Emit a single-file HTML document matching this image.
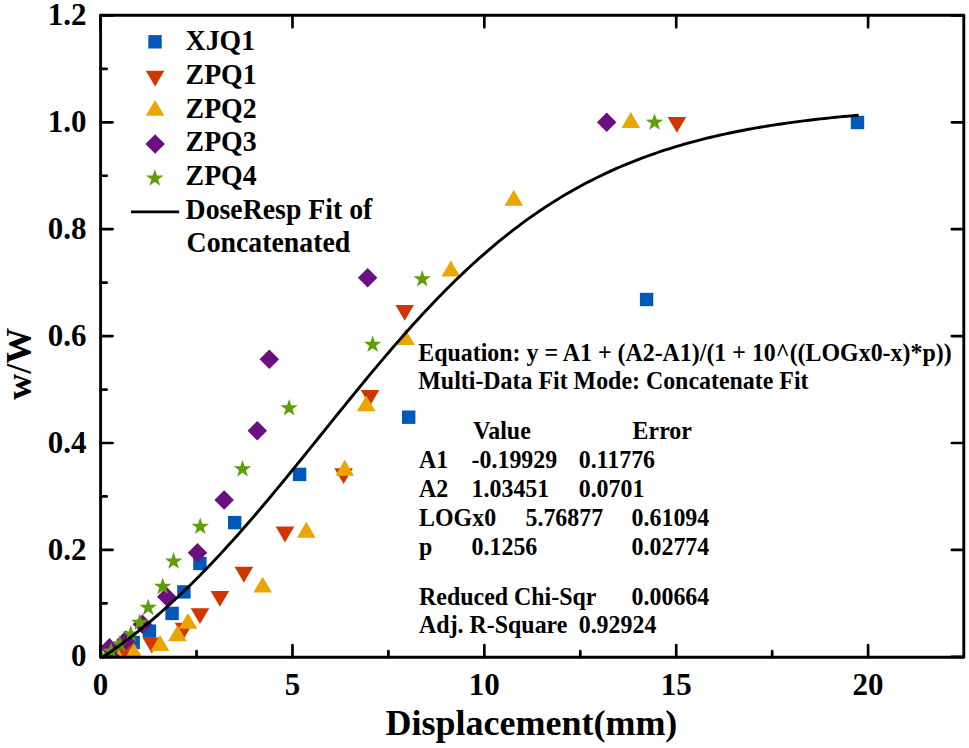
<!DOCTYPE html>
<html><head><meta charset="utf-8"><style>
html,body{margin:0;padding:0;background:#fff;width:969px;height:748px;overflow:hidden}
svg{display:block}
</style></head><body>
<svg width="969" height="748" viewBox="0 0 969 748">
<defs><clipPath id="pa"><rect x="100.6" y="15.3" width="863.2" height="641.9"/></clipPath></defs>
<rect width="969" height="748" fill="#fff"/>
<g clip-path="url(#pa)">
<rect x="850.8" y="115.8" width="13.4" height="13.4" fill="#0059b8"/>
<rect x="639.9" y="292.8" width="13.4" height="13.4" fill="#0059b8"/>
<rect x="402" y="410.5" width="13.4" height="13.4" fill="#0059b8"/>
<rect x="292.9" y="467.7" width="13.4" height="13.4" fill="#0059b8"/>
<rect x="228" y="515.9" width="13.4" height="13.4" fill="#0059b8"/>
<rect x="193.2" y="556.8" width="13.4" height="13.4" fill="#0059b8"/>
<rect x="177.2" y="585.2" width="13.4" height="13.4" fill="#0059b8"/>
<rect x="165.4" y="606.7" width="13.4" height="13.4" fill="#0059b8"/>
<rect x="142.7" y="624.4" width="13.4" height="13.4" fill="#0059b8"/>
<rect x="126.5" y="635.8" width="13.4" height="13.4" fill="#0059b8"/>
<rect x="115.3" y="649.3" width="13.4" height="13.4" fill="#0059b8"/>
<path d="M667.6 116.95H686.2L676.9 132.85Z" fill="#d23600"/>
<path d="M395.4 304.95H414L404.7 320.85Z" fill="#d23600"/>
<path d="M360.7 390.05H379.3L370 405.95Z" fill="#d23600"/>
<path d="M334.3 468.15H352.9L343.6 484.05Z" fill="#d23600"/>
<path d="M275.7 526.55H294.3L285 542.45Z" fill="#d23600"/>
<path d="M234.6 566.85H253.2L243.9 582.75Z" fill="#d23600"/>
<path d="M210.6 590.95H229.2L219.9 606.85Z" fill="#d23600"/>
<path d="M190.7 608.15H209.3L200 624.05Z" fill="#d23600"/>
<path d="M174.7 622.65H193.3L184 638.55Z" fill="#d23600"/>
<path d="M142.5 637.55H161.1L151.8 653.45Z" fill="#d23600"/>
<path d="M114.7 644.05H133.3L124 659.95Z" fill="#d23600"/>
<path d="M621.5 127.95H640.1L630.8 112.05Z" fill="#eba500"/>
<path d="M504.5 205.65H523.1L513.8 189.75Z" fill="#eba500"/>
<path d="M441.5 276.45H460.1L450.8 260.55Z" fill="#eba500"/>
<path d="M396.2 344.95H414.8L405.5 329.05Z" fill="#eba500"/>
<path d="M356.9 411.35H375.5L366.2 395.45Z" fill="#eba500"/>
<path d="M335.4 475.75H354L344.7 459.85Z" fill="#eba500"/>
<path d="M297 537.65H315.6L306.3 521.75Z" fill="#eba500"/>
<path d="M253.3 592.55H271.9L262.6 576.65Z" fill="#eba500"/>
<path d="M178.7 628.85H197.3L188 612.95Z" fill="#eba500"/>
<path d="M168.1 641.25H186.7L177.4 625.35Z" fill="#eba500"/>
<path d="M150.7 650.95H169.3L160 635.05Z" fill="#eba500"/>
<path d="M124.6 658.9H143.2L133.9 643Z" fill="#eba500"/>
<path d="M109.4 665.3H128L118.7 649.4Z" fill="#eba500"/>
<path d="M606.7 112.45L616.45 122.2L606.7 131.95L596.95 122.2Z" fill="#6c0f80"/>
<path d="M367.6 267.95L377.35 277.7L367.6 287.45L357.85 277.7Z" fill="#6c0f80"/>
<path d="M269.3 349.55L279.05 359.3L269.3 369.05L259.55 359.3Z" fill="#6c0f80"/>
<path d="M257.3 421.05L267.05 430.8L257.3 440.55L247.55 430.8Z" fill="#6c0f80"/>
<path d="M224.2 490.35L233.95 500.1L224.2 509.85L214.45 500.1Z" fill="#6c0f80"/>
<path d="M197.5 542.95L207.25 552.7L197.5 562.45L187.75 552.7Z" fill="#6c0f80"/>
<path d="M166.7 586.95L176.45 596.7L166.7 606.45L156.95 596.7Z" fill="#6c0f80"/>
<path d="M142.4 614.45L152.15 624.2L142.4 633.95L132.65 624.2Z" fill="#6c0f80"/>
<path d="M126 630.25L135.75 640L126 649.75L116.25 640Z" fill="#6c0f80"/>
<path d="M109.5 638.1L119.25 647.85L109.5 657.6L99.75 647.85Z" fill="#6c0f80"/>
<path d="M113 649.25L122.75 659L113 668.75L103.25 659Z" fill="#6c0f80"/>
<path d="M654.5 113.3L656.61 119.6L663.25 119.66L657.91 123.61L659.91 129.94L654.5 126.09L649.09 129.94L651.09 123.61L645.75 119.66L652.39 119.6Z" fill="#5e9e08"/>
<path d="M422.2 269.9L424.31 276.2L430.95 276.26L425.61 280.21L427.61 286.54L422.2 282.69L416.79 286.54L418.79 280.21L413.45 276.26L420.09 276.2Z" fill="#5e9e08"/>
<path d="M372.6 335.4L374.71 341.7L381.35 341.76L376.01 345.71L378.01 352.04L372.6 348.19L367.19 352.04L369.19 345.71L363.85 341.76L370.49 341.7Z" fill="#5e9e08"/>
<path d="M289.1 398.9L291.21 405.2L297.85 405.26L292.51 409.21L294.51 415.54L289.1 411.69L283.69 415.54L285.69 409.21L280.35 405.26L286.99 405.2Z" fill="#5e9e08"/>
<path d="M242.5 459.9L244.61 466.2L251.25 466.26L245.91 470.21L247.91 476.54L242.5 472.69L237.09 476.54L239.09 470.21L233.75 466.26L240.39 466.2Z" fill="#5e9e08"/>
<path d="M200.2 517.4L202.31 523.7L208.95 523.76L203.61 527.71L205.61 534.04L200.2 530.19L194.79 534.04L196.79 527.71L191.45 523.76L198.09 523.7Z" fill="#5e9e08"/>
<path d="M173.6 552.1L175.71 558.4L182.35 558.46L177.01 562.41L179.01 568.74L173.6 564.89L168.19 568.74L170.19 562.41L164.85 558.46L171.49 558.4Z" fill="#5e9e08"/>
<path d="M162.7 577.5L164.81 583.8L171.45 583.86L166.11 587.81L168.11 594.14L162.7 590.29L157.29 594.14L159.29 587.81L153.95 583.86L160.59 583.8Z" fill="#5e9e08"/>
<path d="M148.2 598.5L150.31 604.8L156.95 604.86L151.61 608.81L153.61 615.14L148.2 611.29L142.79 615.14L144.79 608.81L139.45 604.86L146.09 604.8Z" fill="#5e9e08"/>
<path d="M139.8 613.4L141.91 619.7L148.55 619.76L143.21 623.71L145.21 630.04L139.8 626.19L134.39 630.04L136.39 623.71L131.05 619.76L137.69 619.7Z" fill="#5e9e08"/>
<path d="M130.8 625.1L132.91 631.4L139.55 631.46L134.21 635.41L136.21 641.74L130.8 637.89L125.39 641.74L127.39 635.41L122.05 631.46L128.69 631.4Z" fill="#5e9e08"/>
<path d="M119.8 634.9L121.91 641.2L128.55 641.26L123.21 645.21L125.21 651.54L119.8 647.69L114.39 651.54L116.39 645.21L111.05 641.26L117.69 641.2Z" fill="#5e9e08"/>
<path d="M111 642.3L113.11 648.6L119.75 648.66L114.41 652.61L116.41 658.94L111 655.09L105.59 658.94L107.59 652.61L102.25 648.66L108.89 648.6Z" fill="#5e9e08"/>
<path d="M101 646.8L103.11 653.1L109.75 653.16L104.41 657.11L106.41 663.44L101 659.59L95.59 663.44L97.59 657.11L92.25 653.16L98.89 653.1Z" fill="#5e9e08"/>
<path d="M100.6 658.7L104.39 656.16L108.18 653.57L111.97 650.94L115.76 648.25L119.55 645.51L123.34 642.72L127.13 639.88L130.92 636.99L134.71 634.05L138.5 631.05L142.29 628L146.08 624.91L149.87 621.76L153.66 618.56L157.45 615.3L161.24 612L165.03 608.64L168.82 605.24L172.61 601.78L176.4 598.27L180.19 594.71L183.98 591.1L187.77 587.44L191.56 583.73L195.35 579.97L199.14 576.17L202.93 572.32L206.72 568.42L210.51 564.47L214.3 560.49L218.09 556.45L221.88 552.38L225.67 548.26L229.46 544.1L233.25 539.9L237.04 535.66L240.83 531.38L244.62 527.07L248.41 522.72L252.2 518.34L255.99 513.93L259.78 509.48L263.57 505.01L267.36 500.51L271.15 495.98L274.94 491.43L278.73 486.85L282.52 482.25L286.31 477.64L290.1 473L293.89 468.35L297.68 463.69L301.47 459.02L305.26 454.33L309.05 449.64L312.84 444.93L316.63 440.23L320.42 435.52L324.21 430.81L328 426.1L331.79 421.4L335.58 416.7L339.37 412.01L343.16 407.32L346.95 402.65L350.74 397.99L354.53 393.34L358.32 388.71L362.11 384.1L365.9 379.51L369.69 374.94L373.48 370.39L377.27 365.86L381.06 361.37L384.85 356.9L388.64 352.46L392.43 348.05L396.22 343.67L400.01 339.33L403.8 335.03L407.59 330.76L411.38 326.53L415.17 322.33L418.96 318.18L422.75 314.07L426.54 310L430.33 305.97L434.12 301.99L437.91 298.06L441.7 294.17L445.49 290.32L449.28 286.53L453.07 282.78L456.86 279.08L460.65 275.43L464.44 271.83L468.23 268.28L472.02 264.78L475.81 261.33L479.6 257.93L483.39 254.58L487.18 251.29L490.97 248.04L494.76 244.85L498.55 241.71L502.34 238.62L506.13 235.59L509.92 232.6L513.71 229.67L517.5 226.78L521.29 223.95L525.08 221.17L528.87 218.44L532.66 215.76L536.45 213.14L540.24 210.56L544.03 208.03L547.82 205.55L551.61 203.11L555.4 200.73L559.19 198.39L562.98 196.1L566.77 193.86L570.56 191.66L574.35 189.51L578.14 187.4L581.93 185.34L585.72 183.32L589.51 181.35L593.3 179.42L597.09 177.53L600.88 175.68L604.67 173.87L608.46 172.1L612.25 170.38L616.04 168.69L619.83 167.04L623.62 165.42L627.41 163.85L631.2 162.31L634.99 160.8L638.78 159.33L642.57 157.9L646.36 156.5L650.15 155.13L653.94 153.8L657.73 152.5L661.52 151.22L665.31 149.98L669.1 148.77L672.89 147.59L676.68 146.44L680.47 145.32L684.26 144.22L688.05 143.15L691.84 142.11L695.63 141.09L699.42 140.1L703.21 139.14L707 138.19L710.79 137.28L714.58 136.38L718.37 135.51L722.16 134.66L725.95 133.83L729.74 133.03L733.53 132.24L737.32 131.47L741.11 130.73L744.9 130L748.69 129.29L752.48 128.6L756.27 127.93L760.06 127.28L763.85 126.64L767.64 126.02L771.43 125.42L775.22 124.83L779.01 124.26L782.8 123.7L786.59 123.16L790.38 122.63L794.17 122.12L797.96 121.62L801.75 121.13L805.54 120.65L809.33 120.19L813.12 119.74L816.91 119.31L820.7 118.88L824.49 118.47L828.28 118.07L832.07 117.67L835.86 117.29L839.65 116.92L843.44 116.56L847.23 116.21L851.02 115.87L854.81 115.54L858.6 115.21" fill="none" stroke="#000" stroke-width="2.9" stroke-linejoin="round"/>
</g>
<path d="M100.6 657.2V645.2M100.6 15.3V27.3M292.48 657.2V645.2M292.48 15.3V27.3M484.35 657.2V645.2M484.35 15.3V27.3M676.23 657.2V645.2M676.23 15.3V27.3M868.1 657.2V645.2M868.1 15.3V27.3M196.54 657.2V651.1M388.41 657.2V651.1M580.29 657.2V651.1M772.16 657.2V651.1M100.6 656.8H112.6M963.8 656.8H951.8M100.6 603.35H106.7M100.6 549.9H112.6M963.8 549.9H951.8M100.6 496.45H106.7M100.6 443H112.6M963.8 443H951.8M100.6 389.55H106.7M100.6 336.1H112.6M963.8 336.1H951.8M100.6 282.65H106.7M100.6 229.2H112.6M963.8 229.2H951.8M100.6 175.75H106.7M100.6 122.3H112.6M963.8 122.3H951.8M100.6 68.85H106.7M100.6 15.4H112.6M963.8 15.4H951.8" stroke="#000" stroke-width="2.7" stroke-linecap="round" fill="none"/>
<rect x="100.6" y="15.3" width="863.2" height="641.9" fill="none" stroke="#000" stroke-width="2.9" stroke-linejoin="round"/>
<rect x="148.3" y="35.1" width="13.4" height="13.4" fill="#0059b8"/>
<path d="M145.8 70.65H164.4L155.1 86.55Z" fill="#d23600"/>
<path d="M145.8 115.85H164.4L155.1 99.95Z" fill="#eba500"/>
<path d="M155.1 134.15L164.85 143.9L155.1 153.65L145.35 143.9Z" fill="#6c0f80"/>
<path d="M154.8 169.1L156.91 175.4L163.55 175.46L158.21 179.41L160.21 185.74L154.8 181.89L149.39 185.74L151.39 179.41L146.05 175.46L152.69 175.4Z" fill="#5e9e08"/>
<path d="M131 211.9H179.2" stroke="#000" stroke-width="2.8"/>
<g font-family="'Liberation Serif', serif" font-weight="bold" fill="#000">
<text x="100.6" y="694.6" font-size="31" text-anchor="middle">0</text>
<text x="292.48" y="694.6" font-size="31" text-anchor="middle">5</text>
<text x="484.35" y="694.6" font-size="31" text-anchor="middle">10</text>
<text x="676.23" y="694.6" font-size="31" text-anchor="middle">15</text>
<text x="868.1" y="694.6" font-size="31" text-anchor="middle">20</text>
<text x="86.6" y="666.4" font-size="31" text-anchor="end">0</text>
<text x="86.6" y="559.5" font-size="31" text-anchor="end">0.2</text>
<text x="86.6" y="452.6" font-size="31" text-anchor="end">0.4</text>
<text x="86.6" y="345.7" font-size="31" text-anchor="end">0.6</text>
<text x="86.6" y="238.8" font-size="31" text-anchor="end">0.8</text>
<text x="86.6" y="131.9" font-size="31" text-anchor="end">1.0</text>
<text x="86.6" y="25" font-size="31" text-anchor="end">1.2</text>
<text x="531.4" y="735" font-size="36" text-anchor="middle">Displacement(mm)</text>
<text x="0" y="0" font-size="36" text-anchor="middle" transform="translate(31.3 363.8) rotate(-90)">w/W</text>
<text transform="translate(185.6 49.5) scale(1 1.06)" font-size="27.8" text-anchor="start">XJQ1</text>
<text transform="translate(185.6 83.5) scale(1 1.06)" font-size="27.8" text-anchor="start">ZPQ1</text>
<text transform="translate(185.6 117.5) scale(1 1.06)" font-size="27.8" text-anchor="start">ZPQ2</text>
<text transform="translate(185.6 151) scale(1 1.06)" font-size="27.8" text-anchor="start">ZPQ3</text>
<text transform="translate(185.6 184.8) scale(1 1.06)" font-size="27.8" text-anchor="start">ZPQ4</text>
<text transform="translate(185.6 218.9) scale(1 1.06)" font-size="27.8" text-anchor="start">DoseResp Fit of</text>
<text transform="translate(186.6 252.2) scale(1 1.06)" font-size="27.8" text-anchor="start">Concatenated</text>
<text transform="translate(418.3 360.6) scale(1 1.05)" font-size="23.9" text-anchor="start">Equation: y = A1 + (A2-A1)/(1 + 10^((LOGx0-x)*p))</text>
<text transform="translate(418.3 389.1) scale(1 1.05)" font-size="23.9" text-anchor="start">Multi-Data Fit Mode: Concatenate Fit</text>
<text transform="translate(473.2 439.4) scale(1 1.05)" font-size="23.9" text-anchor="start">Value</text>
<text transform="translate(632.6 439.4) scale(1 1.05)" font-size="23.9" text-anchor="start">Error</text>
<text transform="translate(419.1 468.3) scale(1 1.05)" font-size="23.9" text-anchor="start">A1</text>
<text transform="translate(471.6 468.3) scale(1 1.05)" font-size="23.9" text-anchor="start">-0.19929</text>
<text transform="translate(578.7 468.3) scale(1 1.05)" font-size="23.9" text-anchor="start">0.11776</text>
<text transform="translate(419.1 496.6) scale(1 1.05)" font-size="23.9" text-anchor="start">A2</text>
<text transform="translate(471.6 496.6) scale(1 1.05)" font-size="23.9" text-anchor="start">1.03451</text>
<text transform="translate(578.7 496.6) scale(1 1.05)" font-size="23.9" text-anchor="start">0.0701</text>
<text transform="translate(419.1 526.3) scale(1 1.05)" font-size="23.9" text-anchor="start">LOGx0</text>
<text transform="translate(525.5 526.3) scale(1 1.05)" font-size="23.9" text-anchor="start">5.76877</text>
<text transform="translate(631.6 526.3) scale(1 1.05)" font-size="23.9" text-anchor="start">0.61094</text>
<text transform="translate(419.1 554.6) scale(1 1.05)" font-size="23.9" text-anchor="start">p</text>
<text transform="translate(471.6 554.6) scale(1 1.05)" font-size="23.9" text-anchor="start">0.1256</text>
<text transform="translate(631.6 554.6) scale(1 1.05)" font-size="23.9" text-anchor="start">0.02774</text>
<text transform="translate(419.1 604.6) scale(1 1.05)" font-size="23.9" text-anchor="start">Reduced Chi-Sqr</text>
<text transform="translate(631.6 604.6) scale(1 1.05)" font-size="23.9" text-anchor="start">0.00664</text>
<text transform="translate(419.1 633.3) scale(1 1.05)" font-size="23.9" text-anchor="start">Adj. R-Square</text>
<text transform="translate(578.7 633.3) scale(1 1.05)" font-size="23.9" text-anchor="start">0.92924</text>
</g>
</svg>
</body></html>
